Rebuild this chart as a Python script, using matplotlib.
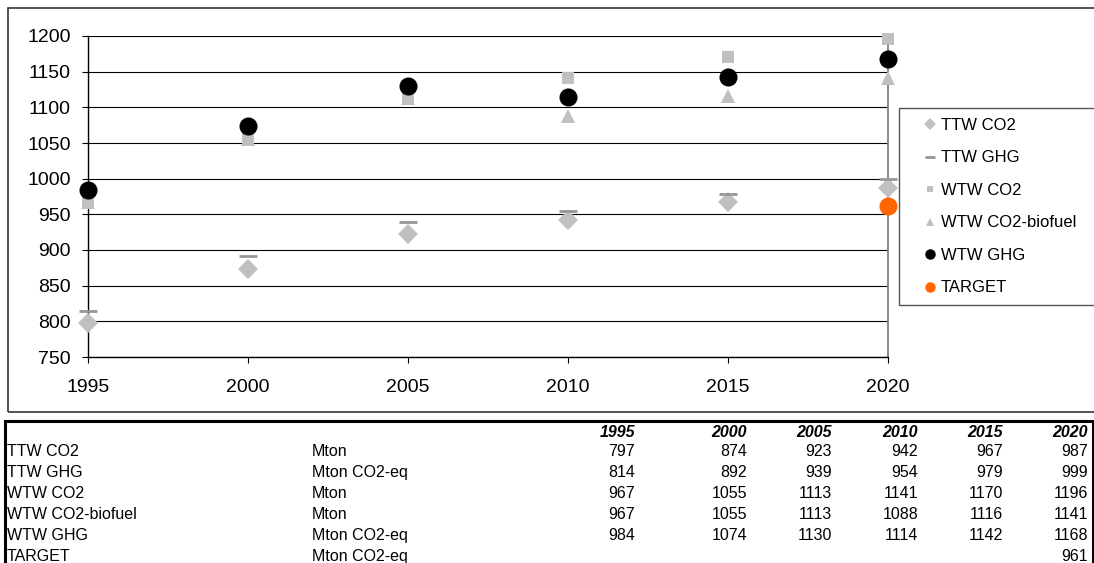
import numpy as np
import matplotlib.pyplot as plt
from matplotlib.patches import Rectangle

plt.rcParams['font.family'] = ['Liberation Sans', 'DejaVu Sans']

years = [1995, 2000, 2005, 2010, 2015, 2020]
series = ['TTW CO2', 'TTW GHG', 'WTW CO2', 'WTW CO2-biofuel', 'WTW GHG', 'TARGET']
units = ['Mton', 'Mton CO2-eq', 'Mton', 'Mton', 'Mton CO2-eq', 'Mton CO2-eq']
ttw_co2 = [797, 874, 923, 942, 967, 987]
ttw_ghg = [814, 892, 939, 954, 979, 999]
wtw_co2 = [967, 1055, 1113, 1141, 1170, 1196]
wtw_co2_bio = [967, 1055, 1113, 1088, 1116, 1141]
wtw_ghg = [984, 1074, 1130, 1114, 1142, 1168]
target = [None, None, None, None, None, 961]
values = [ttw_co2, ttw_ghg, wtw_co2, wtw_co2_bio, wtw_ghg, target]

# marker styles, one per series
styles = [
    dict(marker='D', ms=10, color='#c0c0c0', mew=0),
    dict(marker='_', ms=13.5, color='#969696', mew=2),
    dict(marker='s', ms=8.5, color='#c0c0c0', mew=0),
    dict(marker='^', ms=10.5, color='#c0c0c0', mew=0),
    dict(marker='o', ms=13, color='black', mew=0),
    dict(marker='o', ms=13, color='#ff6600', mew=0),
]

W, H = 1094, 563
fig = plt.figure(figsize=(W / 100, H / 100), dpi=100)


def fx(px):
    return px / W


def fy(py):
    return 1 - py / H


# chart area frame
fig.add_artist(Rectangle((fx(8), fy(412)), fx(1100 - 8), (412 - 8) / H,
                         transform=fig.transFigure, fill=False,
                         edgecolor='#333333', lw=1.2))

ax = fig.add_axes([fx(88), fy(357), fx(800), (357 - 36) / H])
for name, vals, st in zip(series, values, styles):
    y = np.array(vals, dtype=float)
    ax.plot(years, y, linestyle='none', label=name, clip_on=False, zorder=3, **st)

ax.set_xlim(1995, 2020)
ax.set_ylim(750, 1200)
ax.set_xticks(years)
ax.set_yticks(range(750, 1201, 50))
ax.yaxis.grid(True, color='black', lw=0.8)
ax.set_axisbelow(True)
ax.spines['top'].set_visible(False)
ax.spines['right'].set_color('#808080')
ax.spines['right'].set_linewidth(1.3)
ax.spines['left'].set_linewidth(1)
ax.spines['bottom'].set_linewidth(1)
ax.tick_params(axis='both', direction='out', length=4.5, width=0.8, labelsize=14)
ax.tick_params(axis='x', pad=11)
ax.tick_params(axis='y', pad=8)

leg = ax.legend(loc='upper left', bbox_to_anchor=(fx(899), fy(108), fx(1110 - 899), 0),
                bbox_transform=fig.transFigure, mode='expand', fontsize=12,
                markerscale=0.58, handlelength=2.55, handletextpad=-0.65,
                borderpad=0.6, borderaxespad=0, labelspacing=1.05, fancybox=False,
                edgecolor='#555555', framealpha=1, numpoints=1)
leg.get_frame().set_linewidth(1)

# data table below the chart
fig.add_artist(Rectangle((fx(4.5), fy(600)), fx(1092.5 - 4.5), (600 - 420.5) / H,
                         transform=fig.transFigure, fill=False,
                         edgecolor='black', lw=2.2))

col_right = [635, 747, 832, 918, 1003, 1088]
for yr, xr in zip(years, col_right):
    fig.text(fx(xr), fy(437), str(yr), ha='right', va='baseline',
             fontsize=11.5, fontweight='bold', fontstyle='italic')

for i, (name, unit, vals) in enumerate(zip(series, units, values)):
    yb = fy(456 + 21 * i)
    fig.text(fx(7), yb, name, ha='left', va='baseline', fontsize=11.5)
    fig.text(fx(312), yb, unit, ha='left', va='baseline', fontsize=11.5)
    for v, xr in zip(vals, col_right):
        if v is not None:
            fig.text(fx(xr), yb, str(v), ha='right', va='baseline', fontsize=11.5)

fig.savefig('out.png', dpi=100)
